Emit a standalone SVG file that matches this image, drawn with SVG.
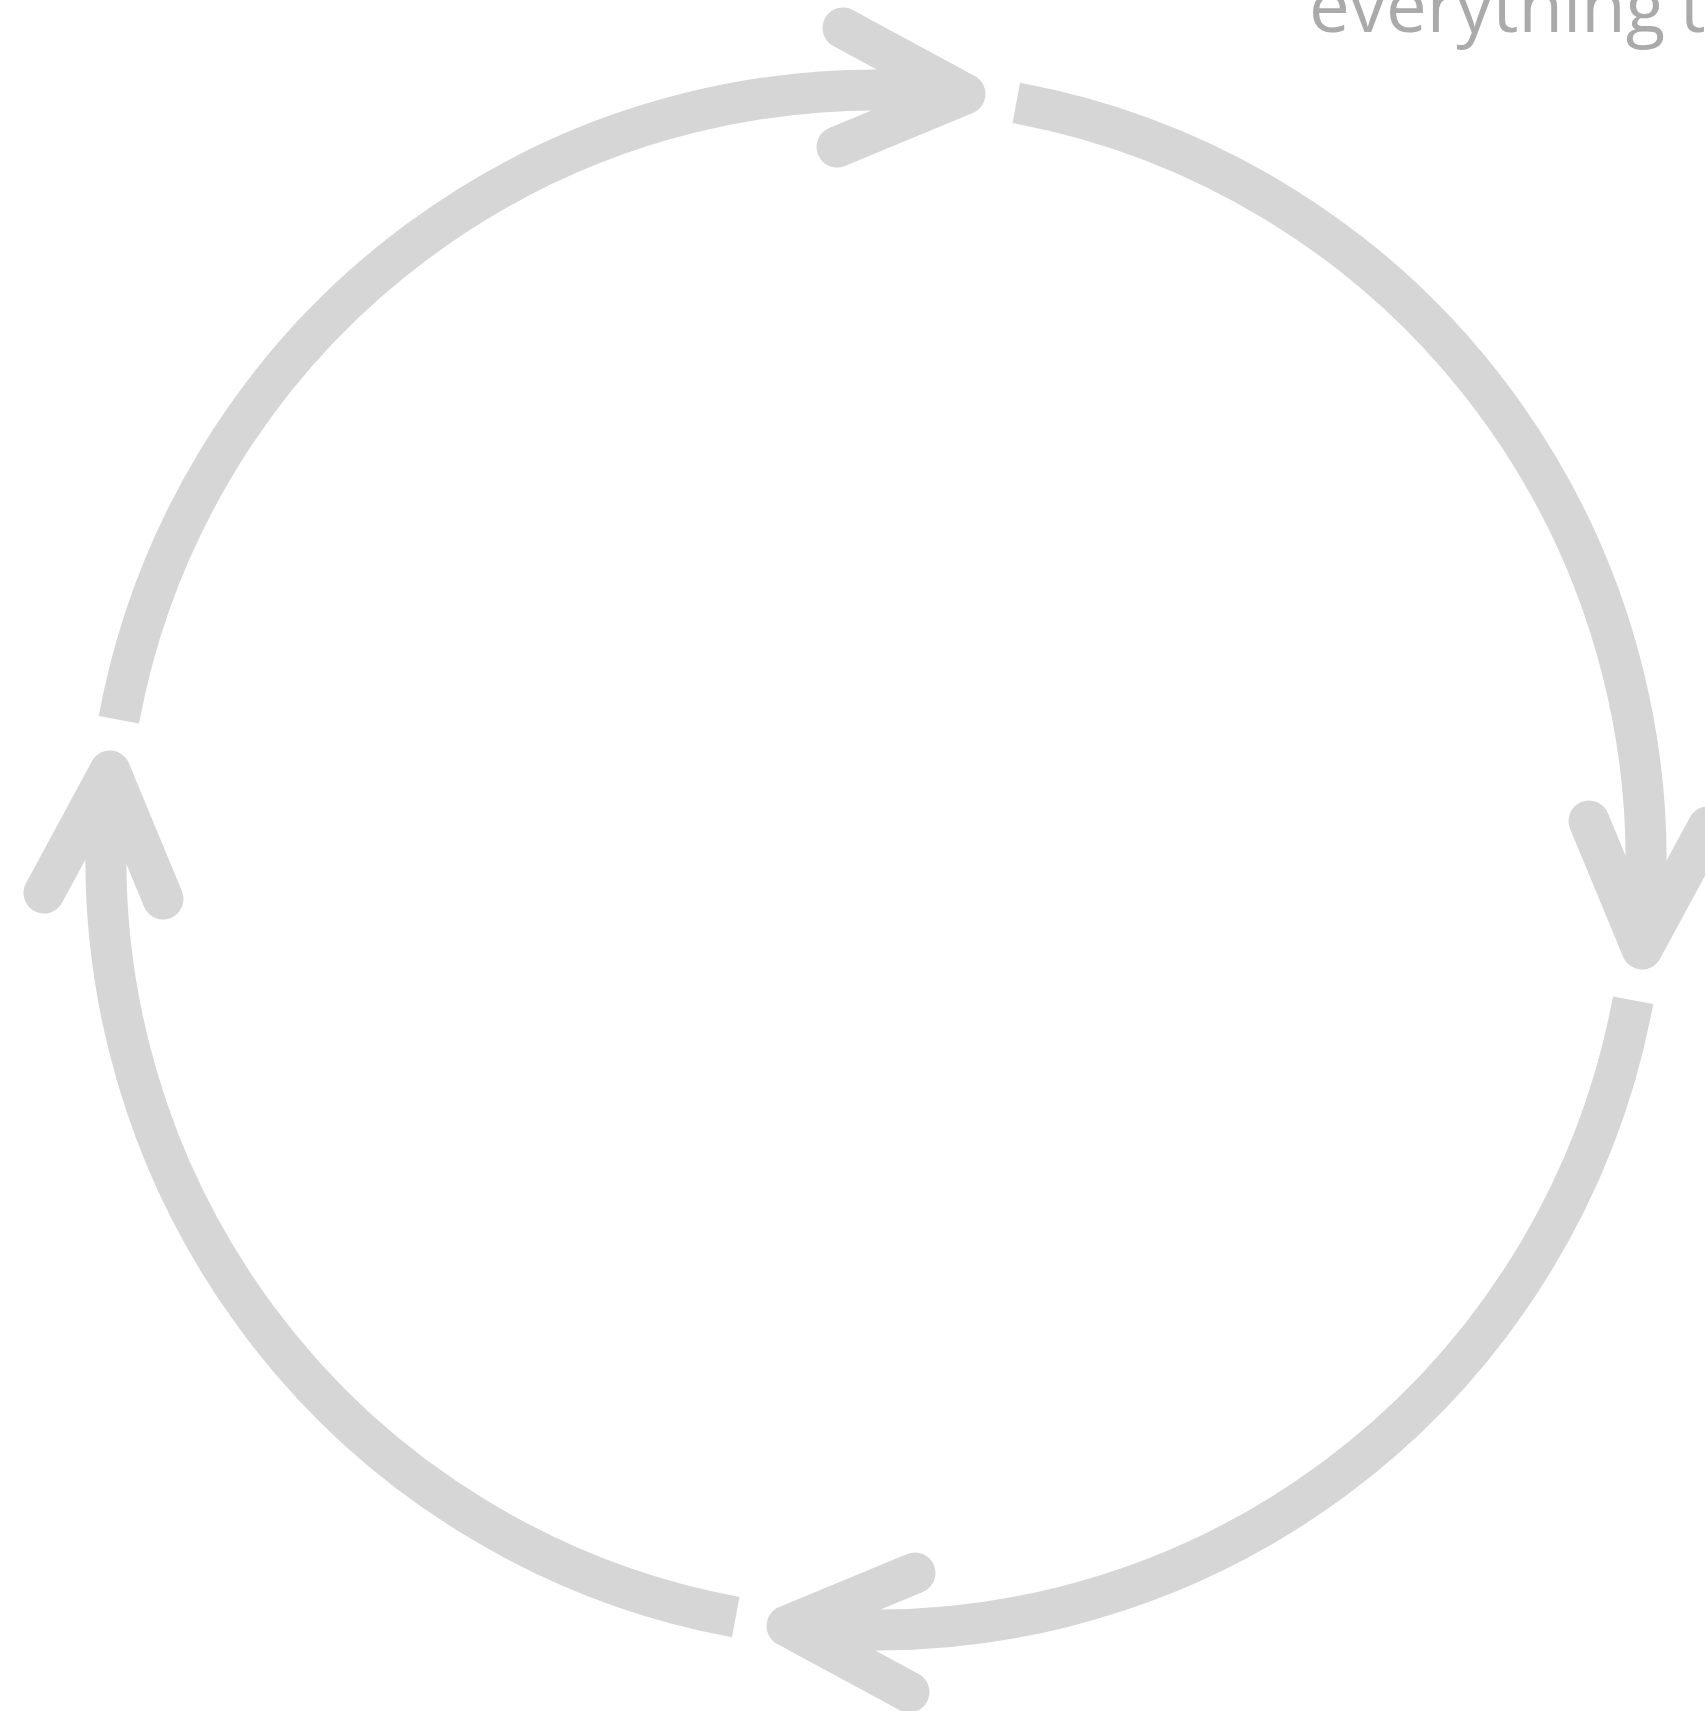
<svg xmlns="http://www.w3.org/2000/svg" width="1705" height="1711" viewBox="0 0 1705 1711">
<style>
.shaft{fill:none;stroke:#d6d6d6;stroke-width:41;stroke-linecap:butt}
.head{fill:none;stroke:#d6d6d6;stroke-width:41;stroke-linecap:round;stroke-linejoin:round}
.label{font-family:"Open Sans","Noto Sans",sans-serif;font-size:72.5px;fill:#aaaaaa;word-spacing:-4px}
</style>
<rect width="1705" height="1711" fill="#ffffff"/>
<g id="title">
<text class="label" x="1309" y="32">everything t</text>
</g>
<g id="connectors">
<g id="arrow-top">
<path class="shaft" d="M118.9,719.7 A770,770 0 0 1 964.8,95.1"/>
<path class="head" d="M843,28 L965,94 L837,147"/>
</g>
<g id="arrow-right">
<path class="shaft" d="M1016.3,102.9 A770,770 0 0 1 1640.9,948.8"/>
<path class="head" d="M1708,827 L1642,949 L1589,821"/>
</g>
<g id="arrow-bottom">
<path class="shaft" d="M1633.1,1000.3 A770,770 0 0 1 787.2,1624.9"/>
<path class="head" d="M909,1692 L787,1626 L915,1573"/>
</g>
<g id="arrow-left">
<path class="shaft" d="M735.7,1617.1 A770,770 0 0 1 111.1,771.2"/>
<path class="head" d="M44,893 L110,771 L163,899"/>
</g>
</g>
</svg>
